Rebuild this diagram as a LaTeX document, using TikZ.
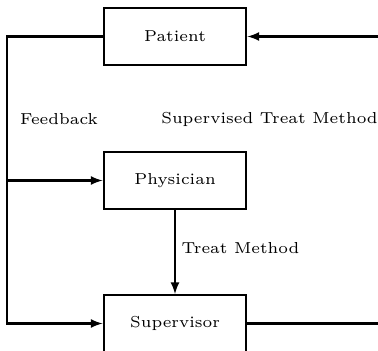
\documentclass[tikz,border=0pt]{standalone}
\usetikzlibrary{arrows}
\newcommand\dtxt[1]{\scalebox{1.40}{\fontsize{6}{7}\selectfont #1}}
\begin{document}
\begin{tikzpicture}[x=0.529pt,y=-0.529pt,
  boxnode/.style={draw,line width=1.1pt,minimum width=75.6pt,minimum height=30.1pt,inner sep=0pt},
  conn/.style={line width=1.1pt},
  arr/.style={conn,-latex}]
\useasboundingbox (0,0) rectangle (378,351);
\node[boxnode] (pat) at (175,36.5) {\dtxt{Patient}};
\node[boxnode] (phy) at (175,180.5) {\dtxt{Physician}};
\node[boxnode] (sup) at (175,323.5) {\dtxt{Supervisor}};
\coordinate (lt) at (7,36.5);
\coordinate (lm) at (7,180.5);
\coordinate (lb) at (7,323.5);
\coordinate (rt) at (378,36.5);
\coordinate (rb) at (378,323.5);
\node (fb) at (59,119) {\dtxt{Feedback}};
\node (stm) at (269.5,119) {\dtxt{Supervised Treat Method}};
\node (tm) at (240.5,248) {\dtxt{Treat Method}};
\draw[arr] (pat.west) -- (lt) -- (lb) -- (sup.west);
\draw[arr] (lm) -- (phy.west);
\draw[arr] (phy.south) -- (sup.north);
\draw[arr] (rt) -- (pat.east);
\draw[conn] (sup.east) -- (rb);
\end{tikzpicture}
\end{document}
